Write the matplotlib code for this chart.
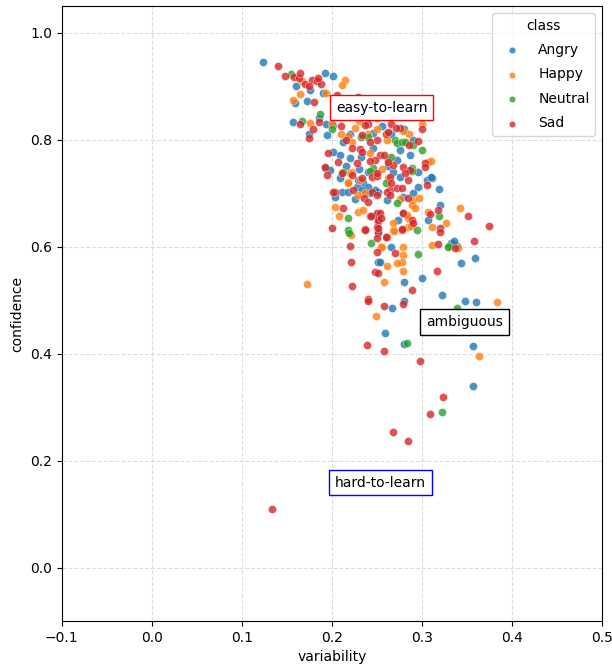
import matplotlib
matplotlib.use("Agg")
import matplotlib.pyplot as plt
import numpy as np

angry_var = [.123,.16,.192,.201,.176,.19,.159,.172,.157,.193,.194,.201,.22,.255,.28,.29,.245,.246,.276,.287,
             .212,.201,.209,.22,.272,.192,.234,.228,.211,.251,.276,.198,.209,.215,.229,.24,.233,.242,.218,.203,
             .251,.251,.268,.296,.306,.311,.296,.319,.248,.261,.279,.279,.307,.273,.334,.339,.343,.253,.32,.332,
             .336,.359,.267,.28,.259,.28,.348,.36,.357,.357,.322,.3,.28,.23,.262,.24,.265,.185,.175,.31,.225,.25,
             .265,.29,.232]
angry_conf = [.945,.90,.925,.92,.893,.887,.869,.873,.833,.83,.809,.828,.81,.825,.82,.80,.813,.785,.781,.772,
              .796,.777,.772,.766,.762,.747,.719,.712,.702,.702,.73,.743,.728,.75,.725,.712,.706,.70,.702,.693,
              .625,.571,.74,.74,.725,.728,.712,.708,.706,.687,.693,.663,.65,.65,.605,.601,.569,.571,.678,.607,
              .61,.579,.485,.498,.438,.418,.498,.496,.414,.339,.509,.541,.534,.745,.75,.74,.81,.84,.81,.73,.69,.66,
              .60,.70,.768]

happy_var = [.167,.214,.211,.164,.193,.157,.176,.2,.23,.25,.21,.24,.285,.25,.279,.261,.262,.307,.226,.218,
             .222,.242,.222,.218,.237,.262,.22,.218,.231,.229,.203,.208,.229,.234,.221,.29,.297,.289,.292,.284,
             .307,.342,.311,.327,.268,.268,.284,.256,.279,.279,.311,.34,.278,.272,.261,.279,.283,.288,.269,.254,
             .258,.172,.249,.383,.363,.3,.255,.31,.275]
happy_conf = [.91,.912,.903,.886,.888,.875,.832,.83,.835,.84,.81,.81,.81,.82,.816,.80,.762,.758,.822,.807,
              .796,.775,.74,.721,.70,.728,.738,.719,.725,.697,.674,.657,.665,.668,.622,.687,.691,.678,.672,.654,
              .665,.672,.637,.644,.644,.631,.637,.60,.60,.584,.603,.597,.571,.569,.564,.554,.659,.639,.629,.60,
              .534,.53,.47,.496,.395,.83,.745,.76,.69]

neutral_var = [.155,.187,.167,.2,.27,.232,.272,.278,.281,.29,.24,.266,.289,.245,.212,.242,.289,.272,.218,.319,
               .218,.219,.243,.294,.296,.33,.329,.283,.339,.322,.3,.26]
neutral_conf = [.923,.848,.835,.82,.80,.805,.794,.796,.796,.79,.805,.768,.747,.747,.74,.742,.742,.682,.654,.657,
                .631,.625,.607,.631,.586,.601,.599,.419,.485,.29,.78,.72]

sad_var = [.14,.148,.158,.163,.17,.178,.183,.188,.175,.165,.184,.205,.18,.229,.165,.186,.179,.175,.21,.24,
           .265,.275,.3,.215,.26,.25,.262,.271,.286,.296,.253,.258,.268,.303,.279,.237,.233,.242,.222,.231,
           .233,.196,.207,.228,.248,.242,.262,.194,.222,.233,.203,.244,.264,.272,.284,.287,.192,.211,.244,.25,
           .25,.223,.236,.24,.201,.212,.242,.25,.251,.25,.237,.2,.251,.25,.22,.25,.221,.25,.281,.303,
           .306,.264,.266,.261,.264,.278,.284,.279,.289,.29,.309,.318,.351,.32,.253,.251,.251,.278,.261,.27,
           .318,.337,.248,.317,.32,.374,.358,.26,.278,.237,.251,.222,.24,.289,.24,.258,.279,.239,.258,.298,
           .323,.309,.268,.284,.133,.243,.254]
sad_conf = [.937,.92,.918,.915,.905,.912,.91,.905,.90,.925,.915,.884,.87,.88,.83,.833,.82,.803,.825,.83,
            .83,.822,.82,.80,.81,.80,.815,.822,.79,.798,.772,.772,.753,.756,.749,.828,.809,.796,.785,.783,
            .777,.775,.758,.756,.762,.76,.758,.734,.734,.728,.702,.702,.706,.71,.725,.743,.749,.738,.73,.733,
            .697,.706,.691,.684,.702,.672,.657,.663,.646,.637,.633,.635,.627,.616,.601,.59,.571,.738,.738,.749,
            .715,.73,.72,.702,.697,.71,.691,.663,.65,.644,.661,.669,.657,.635,.663,.65,.635,.631,.618,.588,
            .605,.597,.552,.554,.628,.639,.61,.618,.633,.631,.551,.526,.502,.519,.498,.489,.492,.416,.404,.386,
            .318,.287,.253,.236,.11,.657,.653]

classes = ["Angry", "Happy", "Neutral", "Sad"]
series = [(angry_var, angry_conf), (happy_var, happy_conf), (neutral_var, neutral_conf), (sad_var, sad_conf)]
colors = ["#1f77b4", "#ff7f0e", "#2ca02c", "#d62728"]

fig = plt.figure(figsize=(6.12, 6.71), dpi=100)
ax = fig.add_axes([0.101, 0.0745, 0.883, 0.9165])

for name, (xv, yv), c in zip(classes, series, colors):
    ax.scatter(xv, yv, s=34, color=c, alpha=0.8, edgecolors="white", linewidths=0.3, label=name, zorder=3)

ax.set_xlim(-0.1, 0.5)
ax.set_ylim(-0.1, 1.05)
ax.set_xticks(np.arange(-0.1, 0.51, 0.1))
ax.set_yticks(np.arange(0.0, 1.01, 0.2))
ax.grid(True, linestyle="--", color="#dddddd", linewidth=0.8, zorder=0)
ax.set_axisbelow(True)
ax.set_xlabel("variability")
ax.set_ylabel("confidence")

def box(x, y, t, ec):
    ax.text(x, y, t, ha="center", va="center", fontsize=10, zorder=5,
            bbox=dict(boxstyle="square,pad=0.42", fc="white", ec=ec))

box(0.255, 0.86, "easy-to-learn", "red")
box(0.347, 0.459, "ambiguous", "black")
box(0.254, 0.159, "hard-to-learn", "blue")

leg = ax.legend(title="class", loc="upper right", markerscale=0.8, fontsize=10, title_fontsize=10,
                labelspacing=0.75, handletextpad=0.9)
fig.savefig("out.png", dpi=100)
